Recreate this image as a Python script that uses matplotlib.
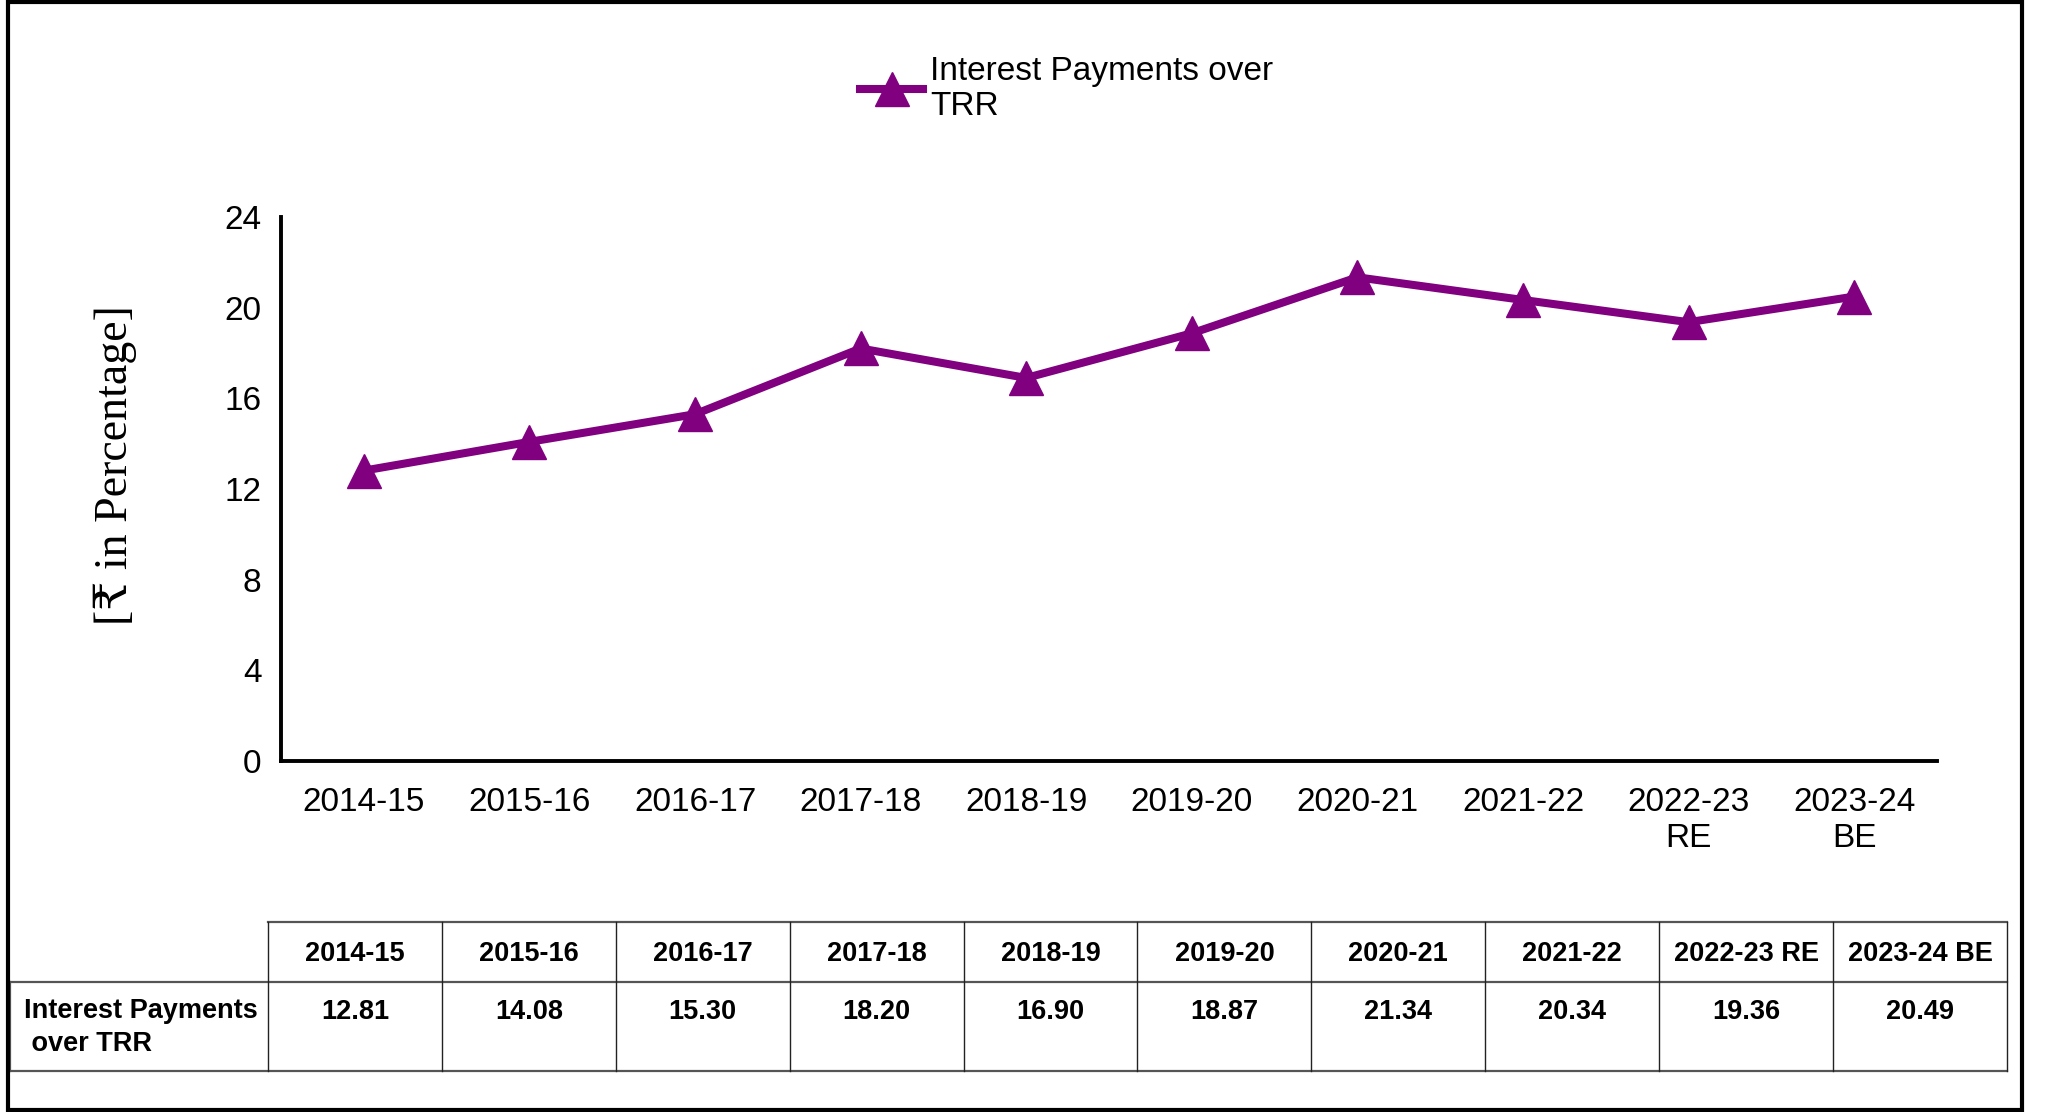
import matplotlib.pyplot as plt
from matplotlib.patches import Rectangle

# Data
years = ['2014-15', '2015-16', '2016-17', '2017-18', '2018-19', '2019-20',
         '2020-21', '2021-22', '2022-23 RE', '2023-24 BE']
tick_labels = ['2014-15', '2015-16', '2016-17', '2017-18', '2018-19', '2019-20',
               '2020-21', '2021-22', '2022-23\nRE', '2023-24\nBE']
values = [12.81, 14.08, 15.30, 18.20, 16.90, 18.87, 21.34, 20.34, 19.36, 20.49]
value_labels = ['12.81', '14.08', '15.30', '18.20', '16.90', '18.87',
                '21.34', '20.34', '19.36', '20.49']
series_name = 'Interest Payments over TRR'
y_ticks = [0, 4, 8, 12, 16, 20, 24]

W, H = 2047, 1112
purple = '#800080'
sans = ['Liberation Sans', 'DejaVu Sans']

fig = plt.figure(figsize=(W / 100, H / 100), dpi=100)

# outer frame
fig.patches.append(Rectangle((8 / W, 2 / H), (2022 - 8) / W, (1110 - 2) / H,
                             transform=fig.transFigure, fill=False,
                             edgecolor='black', linewidth=3))

# Line chart
ax = fig.add_axes([281 / W, 1 - 761 / H, (1937 - 281) / W, (761 - 217) / H])
x = list(range(len(values)))
line, = ax.plot(x, values, color=purple, linewidth=5.8, marker='^',
                markersize=25, label='Interest Payments over\nTRR')
ax.set_xlim(-0.5, len(values) - 0.5)
ax.set_ylim(0, 24)
ax.set_yticks(y_ticks)
ax.set_xticks(x)
ax.set_xticklabels(tick_labels)
for s in ['top', 'right']:
    ax.spines[s].set_visible(False)
for s in ['left', 'bottom']:
    ax.spines[s].set_linewidth(2.8)
ax.tick_params(axis='y', length=0, pad=14, labelsize=24)
ax.tick_params(axis='x', length=0, pad=19, labelsize=24)
for lab in ax.get_xticklabels() + ax.get_yticklabels():
    lab.set_family(sans)
for lab in ax.get_xticklabels():
    lab.set_linespacing(1.2)

ax.text(-0.1, 0.544, '[₹ in Percentage]', transform=ax.transAxes,
        rotation=90, ha='center', va='center', fontsize=33,
        family=['Liberation Serif', 'DejaVu Serif', 'DejaVu Sans'])

leg = fig.legend(handles=[line], loc='center left',
                 bbox_to_anchor=(860 / W, 1 - 89 / H), frameon=False,
                 borderpad=0, borderaxespad=0, handlelength=1.9,
                 handletextpad=0.2, prop={'family': sans, 'size': 24})
for t in leg.get_texts():
    t.set_linespacing(1.15)

# Data table below the chart
n = len(years)
label_w = 1.483
header_h, row_h = 60, 89
tab = fig.add_axes([10 / W, 1 - 1071 / H, 1997 / W, 149 / H])
tab.set_xlim(-label_w, n)
tab.set_ylim(0, header_h + row_h)
tab.axis('off')
grid = dict(color='#555555', linewidth=1.6, clip_on=False)
tab.plot([0, n], [row_h + header_h] * 2, **grid)
tab.plot([-label_w, n], [row_h, row_h], **grid)
tab.plot([-label_w, n], [0, 0], **grid)
tab.plot([-label_w, -label_w], [0, row_h], **grid)
for i in range(n + 1):
    tab.plot([i, i], [0, row_h + header_h], color='#222222', linewidth=1.0,
             clip_on=False)
cell_font = dict(fontsize=19.5, fontweight='bold', family=sans)
for i, (yr, v) in enumerate(zip(years, value_labels)):
    tab.text(i + 0.5, row_h + header_h / 2 - 2, yr, ha='center', va='center',
             **cell_font)
    tab.text(i + 0.5, row_h - 30, v, ha='center', va='center', **cell_font)
tab.text(-label_w + 14 / 174, row_h - 16, 'Interest Payments\n over TRR',
         ha='left', va='top', linespacing=1.35, **cell_font)

fig.savefig('out.png', dpi=100)
